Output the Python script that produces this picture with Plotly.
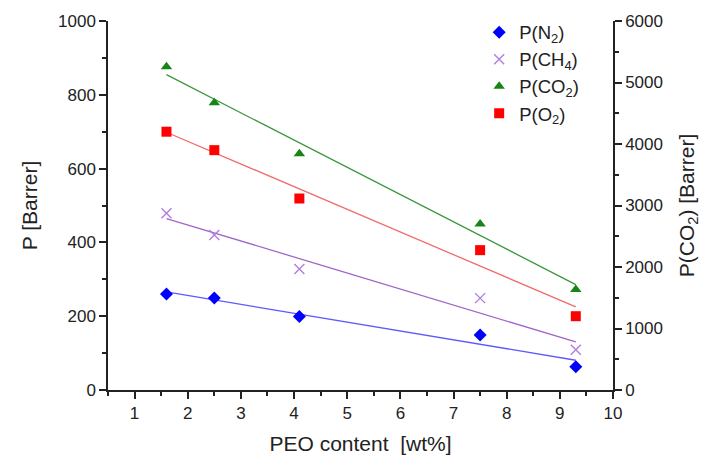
import numpy as np
import plotly.graph_objects as go

# PEO content [wt%]
peo = [1.6, 2.5, 4.1, 7.5, 9.3]

# permeabilities [Barrer]
p_n2 = [260, 249, 199, 149, 63]
p_ch4 = [479, 420, 328, 249, 109]
p_o2 = [700, 650, 519, 379, 200]
p_co2 = [5255, 4670, 3840, 2700, 1635]  # right axis

FONT = "Liberation Sans, Arial, sans-serif"

series = [
    # name, values, marker symbol, marker colour, line colour, axis
    ("P(N<sub>2</sub>)", p_n2, "diamond", "#0000ff", "#5a5aff", "y"),
    ("P(CH<sub>4</sub>)", p_ch4, "x-thin", "#b07ee0", "#a066c8", "y"),
    ("P(CO<sub>2</sub>)", p_co2, "triangle-up", "#168516", "#3a963a", "y2"),
    ("P(O<sub>2</sub>)", p_o2, "square", "#ff0000", "#f26a6a", "y"),
]

fig = go.Figure()

x = np.array(peo)
xfit = np.array([x.min(), x.max()])

for name, vals, sym, mcol, lcol, ax in series:
    # linear fit line
    k, b = np.polyfit(x, np.array(vals, dtype=float), 1)
    fig.add_trace(go.Scatter(x=xfit, y=k * xfit + b, mode="lines", yaxis=ax,
                             line=dict(color=lcol, width=1.3), showlegend=False,
                             hoverinfo="skip"))

for name, vals, sym, mcol, lcol, ax in series:
    mk = dict(symbol=sym, color=mcol, size=10)
    if sym == "x-thin":
        mk = dict(symbol=sym, size=10, line=dict(color=mcol, width=1.4))
    fig.add_trace(go.Scatter(x=peo, y=vals, mode="markers", name=name,
                             yaxis=ax, marker=mk))

axis_common = dict(showline=True, linecolor="#222", linewidth=1.5, ticks="outside",
                   tickcolor="#222", tickwidth=1.5, ticklen=7, showgrid=False,
                   zeroline=False, automargin=False,
                   tickfont=dict(family=FONT, size=17, color="#222"))

# page body adds an 8px margin, so the figure is a bit smaller than the window
fig.update_layout(
    width=702, height=462,
    margin=dict(l=100, r=97, t=13, b=80, autoexpand=False),
    paper_bgcolor="white", plot_bgcolor="white",
    font=dict(family=FONT, color="#222"),
    showlegend=True,
    legend=dict(x=0.735, y=1.02, xanchor="left", yanchor="top",
                font=dict(family=FONT, size=18.5, color="#222"),
                bgcolor="rgba(0,0,0,0)", tracegroupgap=0),
    xaxis=dict(range=[0.5, 10], dtick=1, tick0=1,
               minor=dict(ticks="outside", dtick=0.5, tick0=0.5, ticklen=4,
                          tickcolor="#222", tickwidth=1.5),
               title=dict(text="PEO content  [wt%]", font=dict(family=FONT, size=21),
                          standoff=14),
               **axis_common),
    yaxis=dict(range=[0, 1000], dtick=200,
               minor=dict(ticks="outside", dtick=100, ticklen=4,
                          tickcolor="#222", tickwidth=1.5),
               title=dict(text="P [Barrer]", font=dict(family=FONT, size=21),
                          standoff=15),
               **axis_common),
    yaxis2=dict(range=[0, 6000], dtick=1000, overlaying="y", side="right",
                minor=dict(ticks="outside", dtick=500, ticklen=4,
                           tickcolor="#222", tickwidth=1.5),
                title=dict(text="P(CO<sub>2</sub>) [Barrer]",
                           font=dict(family=FONT, size=21), standoff=17),
                **axis_common),
)

fig.write_html("out.html")
